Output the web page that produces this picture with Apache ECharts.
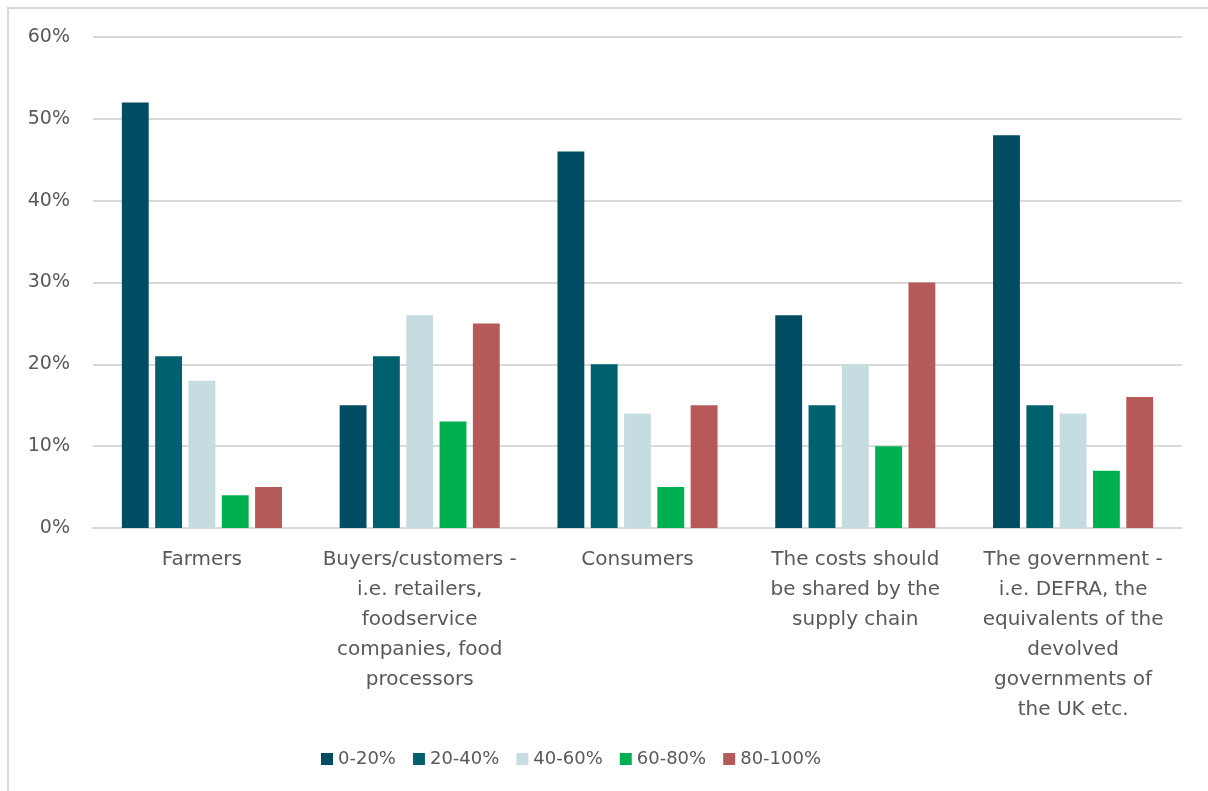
<!DOCTYPE html>
<html>
<head>
<meta charset="utf-8">
<script src="https://cdn.jsdelivr.net/npm/echarts@6/dist/echarts.min.js"></script>
<style>
  html, body { margin: 0; padding: 0; background: #fff; }
  #main { width: 1208px; height: 791px; }
</style>
</head>
<body>
<div id="main"></div>
<script>
// categories (line breaks as in the picture)
var categories = [
  'Farmers',
  'Buyers/customers -\ni.e. retailers,\nfoodservice\ncompanies, food\nprocessors',
  'Consumers',
  'The costs should\nbe shared by the\nsupply chain',
  'The government -\ni.e. DEFRA, the\nequivalents of the\ndevolved\ngovernments of\nthe UK etc.'
];
var seriesNames = ['0-20%', '20-40%', '40-60%', '60-80%', '80-100%'];
var s0_20 = [52, 15, 46, 26, 48];
var s20_40 = [21, 21, 20, 15, 15];
var s40_60 = [18, 26, 14, 20, 14];
var s60_80 = [4, 13, 5, 10, 7];
var s80_100 = [5, 25, 15, 30, 16];
var colors = ['#004c63', '#00606e', '#c5dde1', '#00b050', '#b55a58'];

var seriesData = [s0_20, s20_40, s40_60, s60_80, s80_100];
var textColor = '#595959';
var fontFamily = '"DejaVu Sans", sans-serif';

var myChart = echarts.init(document.getElementById('main'));
myChart.setOption({
  animation: false,
  color: colors,
  textStyle: { fontFamily: fontFamily, color: textColor },
  // light frame round the chart
  graphic: [{
    type: 'rect',
    silent: true,
    shape: { x: 8, y: 8, width: 1400, height: 1000 },
    style: { fill: 'none', stroke: '#d9d9d9', lineWidth: 2 }
  }],
  grid: { left: 93, right: 26, top: 37, bottom: 263, containLabel: false },
  legend: {
    top: 745,
    left: 316,
    itemWidth: 12,
    itemHeight: 12,
    itemGap: 17,
    icon: 'rect',
    textStyle: { fontSize: 18, color: textColor, fontFamily: fontFamily },
    data: seriesNames
  },
  xAxis: {
    type: 'category',
    data: categories,
    axisLine: { show: true, lineStyle: { color: '#d9d9d9', width: 2 } },
    axisTick: { show: false },
    axisLabel: {
      interval: 0,
      fontSize: 20,
      lineHeight: 30,
      color: textColor,
      margin: 17,
      fontFamily: fontFamily
    }
  },
  yAxis: {
    type: 'value',
    min: 0,
    max: 60,
    interval: 10,
    axisLine: { show: false },
    axisTick: { show: false },
    splitLine: { lineStyle: { color: '#d9d9d9', width: 2 } },
    axisLabel: {
      formatter: '{value}%',
      fontSize: 19,
      color: textColor,
      margin: 23,
      fontFamily: fontFamily
    }
  },
  series: seriesData.map(function (d, i) {
    return {
      name: seriesNames[i],
      type: 'bar',
      data: d,
      barGap: '24%',
      barCategoryGap: '26.5%',
      itemStyle: { color: colors[i] }
    };
  })
});
</script>
</body>
</html>
